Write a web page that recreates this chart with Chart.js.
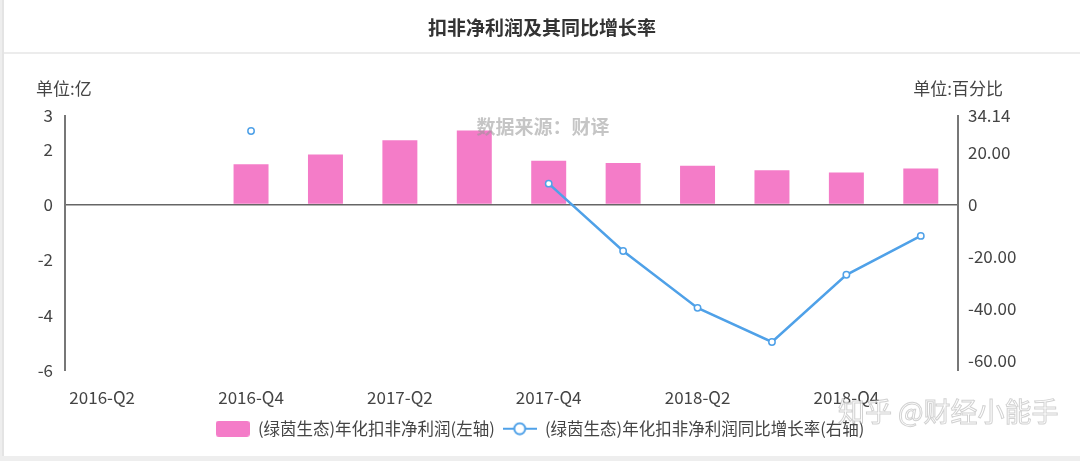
<!DOCTYPE html>
<html>
<head>
<meta charset="utf-8">
<script src="https://cdn.jsdelivr.net/npm/chart.js@4.4.1/dist/chart.umd.min.js"></script>
<style>
html,body{margin:0;padding:0;background:#f0f0f0;}
#wrap{position:relative;width:1080px;height:461px;}
</style>
</head>
<body>
<div id="wrap"><canvas id="c"></canvas></div>
<script>
const categories = ['2016-Q2','2016-Q3','2016-Q4','2017-Q1','2017-Q2','2017-Q3','2017-Q4','2018-Q1','2018-Q2','2018-Q3','2018-Q4','2019-Q1'];
const profitValues = [null, null, 1.46, 1.81, 2.32, 2.68, 1.58, 1.50, 1.40, 1.24, 1.16, 1.30];
const growthValues = [null, null, 28.35, null, null, null, 8.05, -17.9, -39.85, -53.0, -27.1, -12.1];
const leftTicks = [-6, -4, -2, 0, 2, 3.2];
const leftTickLabels = ['-6', '-4', '-2', '0', '2', '3'];
const rightTicks = [-60, -40, -20, 0, 20, 34.14];
const rightTickLabels = ['-60.00', '-40.00', '-20.00', '0', '20.00', '34.14'];
const seriesNames = ['(绿茵生态)年化扣非净利润(左轴)', '(绿茵生态)年化扣非净利润同比增长率(右轴)'];
const titleText = '扣非净利润及其同比增长率';
const leftUnit = '单位:亿';
const rightUnit = '单位:百分比';
const sourceText = '数据来源：财译';
const markText = '知乎 @财经小能手';

const FONT = '"Noto Sans CJK SC", "Open Sans", sans-serif';
const PINK = '#f47cc8';
const BLUE = '#4fa1e8';
const TXT = '#444';

function makeRectIcon() {
  const c = document.createElement('canvas');
  c.width = 34; c.height = 16;
  const g = c.getContext('2d');
  g.fillStyle = PINK;
  g.beginPath();
  if (g.roundRect) g.roundRect(0, 0, 34, 16, 3); else g.rect(0, 0, 34, 16);
  g.fill();
  return c;
}
function makeLineIcon() {
  const c = document.createElement('canvas');
  c.width = 34; c.height = 14;
  const g = c.getContext('2d');
  g.strokeStyle = BLUE; g.lineWidth = 2;
  g.beginPath(); g.moveTo(0, 7); g.lineTo(34, 7); g.stroke();
  g.fillStyle = '#fff';
  g.beginPath(); g.arc(17, 7, 5.5, 0, Math.PI * 2); g.fill(); g.stroke();
  return c;
}
const icons = [makeRectIcon(), makeLineIcon()];

const decor = {
  id: 'decor',
  beforeDraw(chart) {
    const ctx = chart.ctx;
    ctx.save();
    ctx.fillStyle = '#eeeeee';
    ctx.fillRect(0, 0, 1080, 461);
    ctx.fillStyle = '#ffffff';
    ctx.fillRect(4, 0, 1076, 456);
    ctx.fillStyle = '#e4e4e4';
    ctx.fillRect(2, 0, 2, 456);
    ctx.fillStyle = '#ececec';
    ctx.fillRect(4, 52, 1076, 2);
    ctx.fillStyle = '#333';
    ctx.font = 'bold 19px ' + FONT;
    ctx.textAlign = 'center'; ctx.textBaseline = 'middle';
    ctx.fillText(titleText, 542, 28);
    ctx.font = '17px ' + FONT;
    ctx.fillStyle = TXT;
    ctx.textAlign = 'left';
    ctx.fillText(leftUnit, 36, 89);
    ctx.textAlign = 'right';
    ctx.fillText(rightUnit, 1003, 89);
    ctx.restore();
  },
  afterDraw(chart) {
    const ctx = chart.ctx;
    ctx.save();
    ctx.font = 'bold 19px ' + FONT;
    ctx.textAlign = 'center'; ctx.textBaseline = 'middle';
    ctx.fillStyle = 'rgba(150,150,150,0.55)';
    ctx.fillText(sourceText, 543, 127);
    ctx.font = '27px ' + FONT;
    ctx.textAlign = 'left';
    ctx.lineWidth = 1;
    ctx.strokeStyle = 'rgba(140,140,140,0.4)';
    ctx.fillStyle = 'rgba(255,255,255,0.8)';
    ctx.fillText(markText, 838, 412);
    ctx.strokeText(markText, 838, 412);
    ctx.restore();
  }
};

new Chart(document.getElementById('c'), {
  data: {
    labels: categories,
    datasets: [
      {
        type: 'bar', label: seriesNames[0], data: profitValues, yAxisID: 'yL',
        backgroundColor: PINK, barPercentage: 0.94, categoryPercentage: 0.5, order: 1
      },
      {
        type: 'line', label: seriesNames[1], data: growthValues, yAxisID: 'yR',
        borderColor: BLUE, borderWidth: 2.5, pointRadius: 3.2, pointBorderWidth: 1.5,
        pointBackgroundColor: '#fff', pointBorderColor: BLUE, tension: 0, spanGaps: false, order: 0
      }
    ]
  },
  options: {
    responsive: true, maintainAspectRatio: false, animation: false,
    layout: { padding: { top: 116, bottom: 14, left: 0, right: 0 } },
    plugins: {
      tooltip: { enabled: false },
      legend: {
        position: 'bottom',
        labels: {
          usePointStyle: true, pointStyleWidth: 34, boxHeight: 17, padding: 8,
          color: TXT, font: { size: 16.5, family: FONT },
          generateLabels(chart) {
            return chart.data.datasets.map((d, i) => ({
              text: d.label, datasetIndex: i, pointStyle: icons[i],
              fillStyle: i === 0 ? PINK : '#fff', strokeStyle: BLUE, lineWidth: 0,
              hidden: !chart.isDatasetVisible(i), fontColor: TXT
            }));
          }
        }
      }
    },
    scales: {
      x: {
        offset: true,
        grid: { display: false },
        border: { display: false },
        afterFit(s) { s.height = 42; },
        ticks: {
          autoSkip: false, maxRotation: 0, padding: 9, color: TXT,
          font: { size: 17, family: FONT },
          callback(v, i) { return i % 2 === 0 ? categories[i] : ''; }
        }
      },
      yL: {
        position: 'left', min: -6, max: 3.2,
        afterFit(s) { s.width = 65; },
        afterBuildTicks(s) { s.ticks = leftTicks.map(v => ({ value: v })); },
        border: { display: true, color: '#777', width: 2 },
        grid: {
          drawTicks: false,
          color: c => (c.tick && c.tick.value === 0) ? '#666' : 'rgba(0,0,0,0)',
          lineWidth: c => (c.tick && c.tick.value === 0) ? 1.5 : 0
        },
        ticks: {
          padding: 12, color: TXT, font: { size: 17, family: FONT },
          callback(v) { const i = leftTicks.indexOf(v); return i >= 0 ? leftTickLabels[i] : ''; }
        }
      },
      yR: {
        position: 'right', min: -64.0, max: 34.14,
        afterFit(s) { s.width = 122; },
        afterBuildTicks(s) { s.ticks = rightTicks.map(v => ({ value: v })); },
        border: { display: true, color: '#777', width: 2 },
        grid: { display: false, drawTicks: false },
        ticks: {
          padding: 10, color: TXT, font: { size: 17, family: FONT },
          callback(v) { const i = rightTicks.indexOf(v); return i >= 0 ? rightTickLabels[i] : ''; }
        }
      }
    }
  },
  plugins: [decor]
});
</script>
</body>
</html>
